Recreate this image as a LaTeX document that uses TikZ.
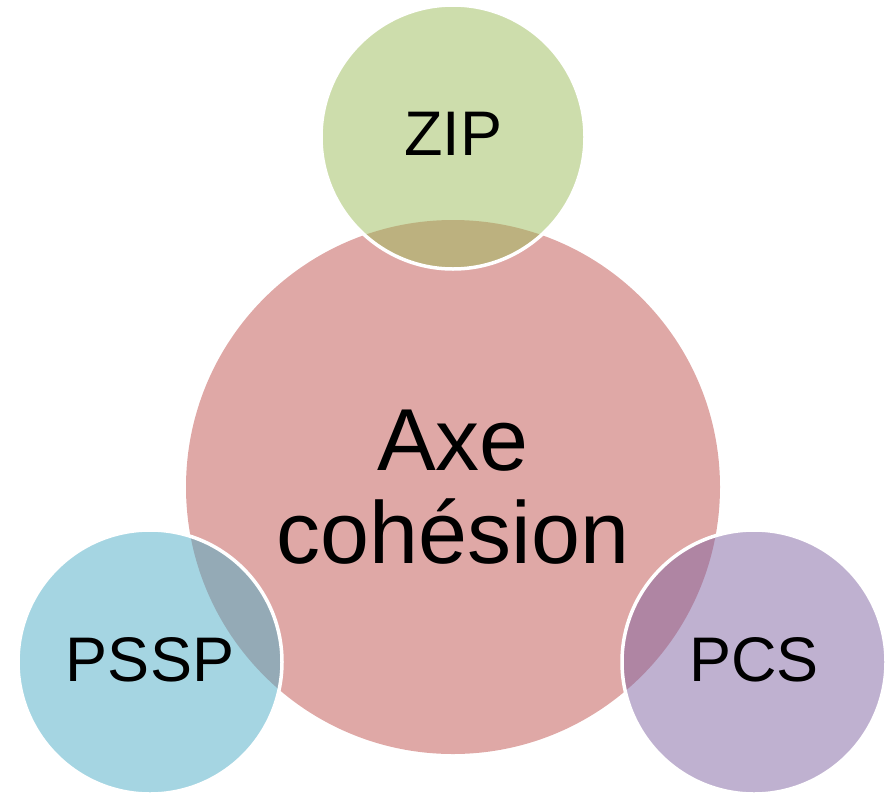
\documentclass[tikz,border=0pt]{standalone}
\usepackage{fontspec}
\setmainfont{Liberation Sans}
\usepackage{xcolor}
\usepackage{tikz}
\usetikzlibrary{positioning}

\definecolor{axered}{HTML}{C0504D}
\definecolor{zipgreen}{HTML}{9BBB59}
\definecolor{psspblue}{HTML}{4BACC6}
\definecolor{pcspurple}{HTML}{8064A2}

\begin{document}
\begin{tikzpicture}[
    x=1pt, y=-1pt,
    bigcircle/.style={circle, fill=axered!50, minimum size=534pt, inner sep=0pt, align=center, font=\fontsize{88}{93}\selectfont},
    smallcircle/.style={circle, draw=white, line width=3.5pt, fill opacity=0.5, draw opacity=1, text opacity=1, minimum size=264pt, inner sep=0pt, text depth=6pt, font=\fontsize{63}{70}\selectfont}
]
\useasboundingbox (0,0) rectangle (889,793);

% Centre
\node[bigcircle] (axe) at (453,487) {Axe\\cohésion};

% Satellites
\node[smallcircle, fill=zipgreen] (zip) at (453,137) {ZIP};
\node[smallcircle, fill=psspblue] (pssp) at (150,662) {PSSP};
\node[smallcircle, fill=pcspurple] (pcs) at (754,662) {PCS};

\end{tikzpicture}
\end{document}
